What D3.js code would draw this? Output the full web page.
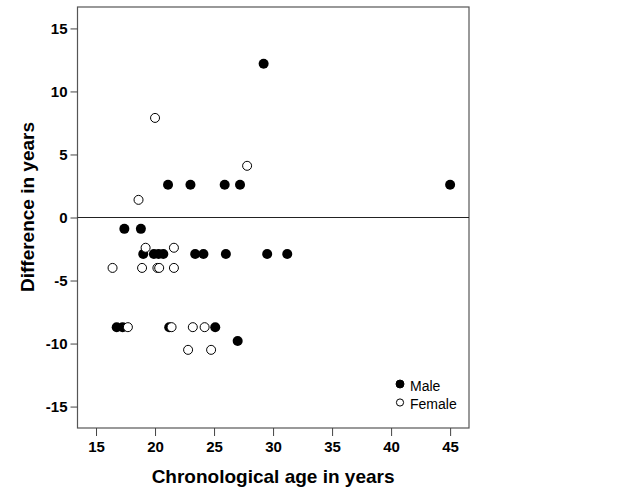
<!DOCTYPE html>
<html>
<head>
<meta charset="utf-8">
<script src="https://cdn.jsdelivr.net/npm/d3@7"></script>
<style>
  body { margin: 0; background: #fff; }
  text { font-family: "Liberation Sans", Arial, sans-serif; }
</style>
</head>
<body>
<div id="chart"></div>
<script>
// values
const maleAge  = [29.2, 21.1, 23.0, 25.9, 27.2, 45.0, 17.4, 18.8,
                  19.0, 19.9, 20.3, 20.7, 23.4, 24.1, 26.0, 29.5, 31.2,
                  16.75, 17.25, 21.2, 25.1, 27.0];
const maleDiff = [12.2, 2.6, 2.6, 2.6, 2.6, 2.6, -0.9, -0.9,
                  -2.9, -2.9, -2.9, -2.9, -2.9, -2.9, -2.9, -2.9, -2.9,
                  -8.7, -8.7, -8.7, -8.7, -9.8];
const femaleAge  = [20.0, 27.8, 18.6, 19.2, 21.6, 16.4, 18.9, 20.2, 20.35, 21.6,
                    17.7, 21.4, 23.2, 24.2, 22.8, 24.75];
const femaleDiff = [7.9, 4.1, 1.4, -2.4, -2.4, -4.0, -4.0, -4.0, -4.0, -4.0,
                    -8.7, -8.7, -8.7, -8.7, -10.5, -10.5];
const xTicks = [15, 20, 25, 30, 35, 40, 45];
const yTicks = [-15, -10, -5, 0, 5, 10, 15];
const legendLabels = ["Male", "Female"];

const width = 629, height = 504;
const margin = {top: 7, right: 160, bottom: 76, left: 77.5};
const plotW = 469 - margin.left;
const plotH = 428 - margin.top;

const svg = d3.select("#chart").append("svg")
    .attr("width", width)
    .attr("height", height);

const g = svg.append("g")
    .attr("transform", "translate(" + margin.left + "," + margin.top + ")");

const x = d3.scaleLinear().domain([13.43, 46.6]).range([0, plotW]);
const y = d3.scaleLinear().domain([-16.7, 16.7]).range([plotH, 0]);

// frame
g.append("rect")
    .attr("width", plotW)
    .attr("height", plotH)
    .attr("fill", "#fff")
    .attr("stroke", "#555")
    .attr("stroke-width", 1.2);

// reference line at zero
g.append("line")
    .attr("x1", 0).attr("x2", plotW)
    .attr("y1", y(0)).attr("y2", y(0))
    .attr("stroke", "#222")
    .attr("stroke-width", 1);

// axes (plain hyphen for negatives, like the original)
const fmt = d => String(d);
const xAxis = g.append("g")
    .attr("transform", "translate(0," + plotH + ")")
    .call(d3.axisBottom(x).tickValues(xTicks).tickFormat(fmt).tickSize(8).tickPadding(5));
const yAxis = g.append("g")
    .call(d3.axisLeft(y).tickValues(yTicks).tickFormat(fmt).tickSize(7).tickPadding(3));

[xAxis, yAxis].forEach(a => {
  a.select(".domain").remove();
  a.selectAll(".tick line").attr("stroke", "#444");
  a.selectAll(".tick text")
      .attr("fill", "#000")
      .style("font-family", "'Liberation Sans', Arial, sans-serif")
      .style("font-size", "15px")
      .style("font-weight", "bold");
});

// points: males first, females on top
const males = maleAge.map((a, i) => ({age: a, diff: maleDiff[i]}));
const females = femaleAge.map((a, i) => ({age: a, diff: femaleDiff[i]}));

g.selectAll(".male")
    .data(males)
  .enter().append("circle")
    .attr("class", "male")
    .attr("cx", d => x(d.age))
    .attr("cy", d => y(d.diff))
    .attr("r", 5)
    .attr("fill", "#000");

g.selectAll(".female")
    .data(females)
  .enter().append("circle")
    .attr("class", "female")
    .attr("cx", d => x(d.age))
    .attr("cy", d => y(d.diff))
    .attr("r", 4.5)
    .attr("fill", "#fff")
    .attr("stroke", "#000")
    .attr("stroke-width", 1);

// legend
const legend = svg.append("g").attr("transform", "translate(400,384)");
legendLabels.forEach((lab, i) => {
  const row = legend.append("g").attr("transform", "translate(0," + (i * 18.5) + ")");
  row.append("circle")
      .attr("r", i === 0 ? 4 : 3.6)
      .attr("fill", i === 0 ? "#000" : "#fff")
      .attr("stroke", "#000")
      .attr("stroke-width", 1);
  row.append("text")
      .attr("x", 10)
      .attr("y", 6.5)
      .style("font-size", "14px")
      .text(lab);
});

// axis titles
svg.append("text")
    .attr("x", x(30) + margin.left)
    .attr("y", 483)
    .attr("text-anchor", "middle")
    .style("font-size", "19px")
    .style("font-weight", "bold")
    .text("Chronological age in years");

svg.append("text")
    .attr("transform", "translate(34,207) rotate(-90)")
    .attr("text-anchor", "middle")
    .style("font-size", "19px")
    .style("font-weight", "bold")
    .text("Difference in years");
</script>
</body>
</html>
